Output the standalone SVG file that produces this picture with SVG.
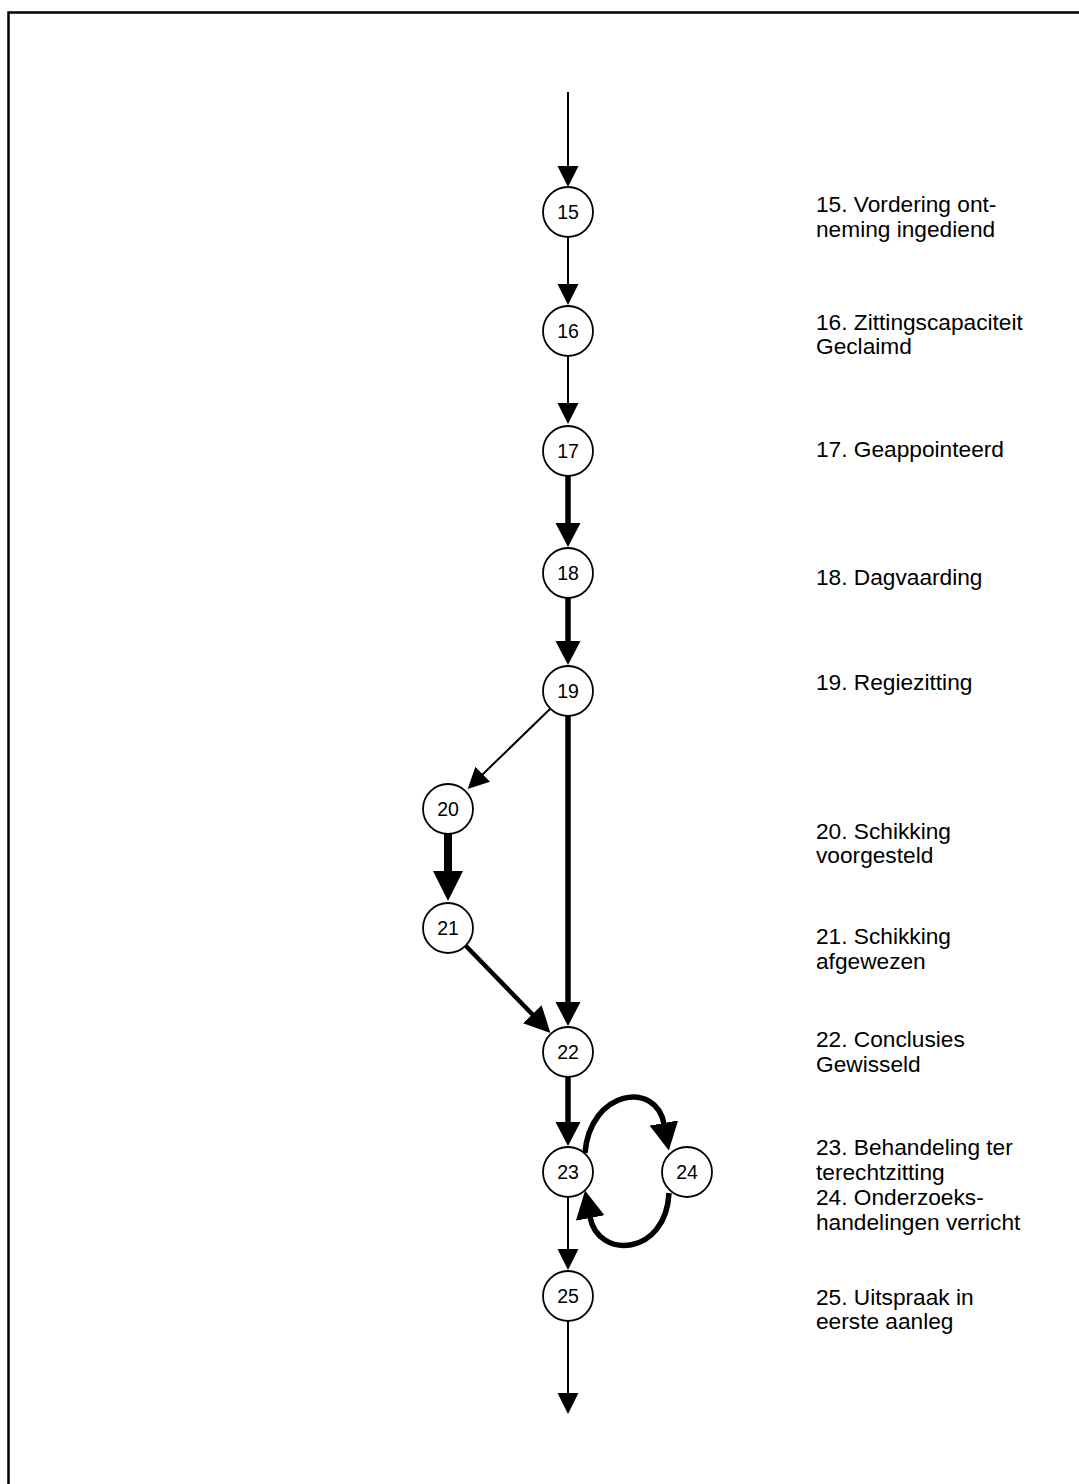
<svg xmlns="http://www.w3.org/2000/svg" width="1079" height="1484" viewBox="0 0 1079 1484">
  <style>
    .node circle { fill: #fff; stroke: #000; stroke-width: 1.8; }
    .node text { font-family: "Liberation Sans", Arial, sans-serif; font-size: 19.5px; text-anchor: middle; fill: #000; }
    .label text { font-family: "Liberation Sans", Arial, sans-serif; font-size: 22.7px; fill: #000; }
    .edge { fill: none; stroke: #000; stroke-linecap: butt; }
    .thin { stroke-width: 2; marker-end: url(#arrThin); }
    .thick { stroke-width: 5.5; marker-end: url(#arrThick); }
    .heavy { stroke-width: 8; marker-end: url(#arrHeavy); }
    .med { stroke-width: 4.5; marker-end: url(#arrMed); }
    .loop { stroke-width: 5.5; marker-end: url(#arrLoop); }
  </style>
  <defs>
    <marker id="arrThin" markerUnits="userSpaceOnUse" markerWidth="22" markerHeight="22" refX="1" refY="10.5" orient="auto">
      <path d="M0,0 L21,10.5 L0,21 z" fill="#000"/>
    </marker>
    <marker id="arrThick" markerUnits="userSpaceOnUse" markerWidth="26" markerHeight="26" refX="1" refY="12.5" orient="auto">
      <path d="M0,0 L24,12.5 L0,25 z" fill="#000"/>
    </marker>
    <marker id="arrHeavy" markerUnits="userSpaceOnUse" markerWidth="32" markerHeight="32" refX="1" refY="15" orient="auto">
      <path d="M0,0 L30,15 L0,30 z" fill="#000"/>
    </marker>
    <marker id="arrMed" markerUnits="userSpaceOnUse" markerWidth="27" markerHeight="27" refX="1" refY="13" orient="auto">
      <path d="M0,0 L26,13 L0,26 z" fill="#000"/>
    </marker>
    <marker id="arrLoop" markerUnits="userSpaceOnUse" markerWidth="30" markerHeight="30" refX="1" refY="14.5" orient="auto">
      <path d="M0,0 L28,14.5 L0,29 z" fill="#000"/>
    </marker>
  </defs>

  <!-- frame -->
  <path d="M8.5,1484 V12.5 H1079" fill="none" stroke="#000" stroke-width="2.5"/>

  <!-- connectors -->
  <g id="connectors">
    <path class="edge thin" d="M568,92 V167"/>
    <path class="edge thin" d="M568,238 V285"/>
    <path class="edge thin" d="M568,356 V404"/>
    <path class="edge thick" d="M568,475 V524"/>
    <path class="edge thick" d="M568,598 V642"/>
    <path class="edge thin" d="M550,709 L482,775"/>
    <path class="edge thick" d="M568,716 V1003"/>
    <path class="edge heavy" d="M448,834 V872"/>
    <path class="edge med" d="M465,945 L533,1015"/>
    <path class="edge thick" d="M568,1077 V1123"/>
    <path class="edge loop" d="M585,1153 C590,1090 656,1080 664,1124"/>
    <path class="edge loop" d="M669,1193 C666,1256 598,1260 590,1217"/>
    <path class="edge thin" d="M568,1197 V1250"/>
    <path class="edge thin" d="M568,1321 V1394"/>
  </g>

  <!-- nodes -->
  <g id="n15" class="node"><circle cx="568" cy="212" r="25"/><text x="568" y="219">15</text></g>
  <g id="n16" class="node"><circle cx="568" cy="331" r="25"/><text x="568" y="338">16</text></g>
  <g id="n17" class="node"><circle cx="568" cy="451" r="25"/><text x="568" y="458">17</text></g>
  <g id="n18" class="node"><circle cx="568" cy="573" r="25"/><text x="568" y="580">18</text></g>
  <g id="n19" class="node"><circle cx="568" cy="691" r="25"/><text x="568" y="698">19</text></g>
  <g id="n20" class="node"><circle cx="448" cy="809" r="25"/><text x="448" y="816">20</text></g>
  <g id="n21" class="node"><circle cx="448" cy="928" r="25"/><text x="448" y="935">21</text></g>
  <g id="n22" class="node"><circle cx="568" cy="1052" r="25"/><text x="568" y="1059">22</text></g>
  <g id="n23" class="node"><circle cx="568" cy="1172" r="25"/><text x="568" y="1179">23</text></g>
  <g id="n24" class="node"><circle cx="687" cy="1172" r="25"/><text x="687" y="1179">24</text></g>
  <g id="n25" class="node"><circle cx="568" cy="1296" r="25"/><text x="568" y="1303">25</text></g>

  <!-- step descriptions -->
  <g id="labels" class="label">
    <text x="816" y="212">15. Vordering ont-</text>
    <text x="816" y="237">neming ingediend</text>
    <text x="816" y="330">16. Zittingscapaciteit</text>
    <text x="816" y="354">Geclaimd</text>
    <text x="816" y="457">17. Geappointeerd</text>
    <text x="816" y="585">18. Dagvaarding</text>
    <text x="816" y="690">19. Regiezitting</text>
    <text x="816" y="839">20. Schikking</text>
    <text x="816" y="863">voorgesteld</text>
    <text x="816" y="944">21. Schikking</text>
    <text x="816" y="969">afgewezen</text>
    <text x="816" y="1047">22. Conclusies</text>
    <text x="816" y="1072">Gewisseld</text>
    <text x="816" y="1155">23. Behandeling ter</text>
    <text x="816" y="1180">terechtzitting</text>
    <text x="816" y="1205">24. Onderzoeks-</text>
    <text x="816" y="1230">handelingen verricht</text>
    <text x="816" y="1305">25. Uitspraak in</text>
    <text x="816" y="1329">eerste aanleg</text>
  </g>
</svg>
